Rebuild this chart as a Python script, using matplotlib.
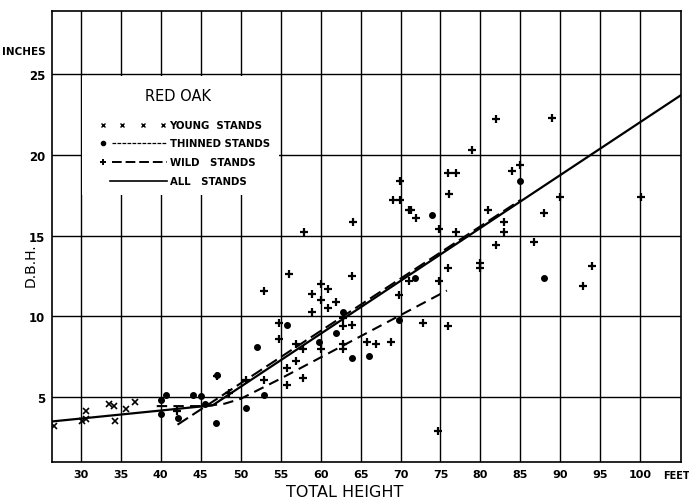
import matplotlib
matplotlib.use("Agg")
import matplotlib.pyplot as plt
from matplotlib.patches import Rectangle

# ---------------------------
# data (height in feet, d.b.h. in inches)
# ---------------------------
young_h = [26.6, 30.1, 30.7, 30.6, 33.5, 34.1, 34.3, 35.6, 36.8]
young_d = [3.2, 3.55, 3.65, 4.15, 4.6, 4.45, 3.5, 4.3, 4.7]

thinned_h = [40.0, 40.0, 40.6, 42.1, 44.0, 45.0, 45.6, 46.9, 47.1, 50.7, 52.0,
             52.9, 55.8, 59.8, 61.9, 62.8, 63.9, 66.0, 69.8, 71.8, 73.9, 85.0, 87.9]
thinned_d = [4.8, 3.95, 5.15, 3.7, 5.15, 5.1, 4.55, 3.4, 6.4, 4.35, 8.1,
             5.15, 9.5, 8.4, 8.95, 10.25, 7.4, 7.55, 9.8, 12.35, 16.3, 18.4, 12.4]

wild_h = [42.0, 47.1, 48.6, 50.7, 52.9, 52.9, 54.8, 54.8, 55.8, 55.8, 56.0,
          56.9, 56.9, 57.8, 57.8, 57.9, 58.9, 58.9, 60.0, 60.0, 60.9, 60.9,
          61.9, 60.0, 62.8, 62.8, 62.8, 62.8, 63.9, 63.9, 64.0, 65.8, 66.9,
          68.8, 69.0, 69.9, 69.9, 69.8, 71.0, 71.0, 71.3, 71.9, 72.8, 74.7,
          74.8, 74.8, 75.9, 75.9, 76.0, 76.9, 76.1, 76.9, 79.0, 79.9, 79.9,
          80.9, 81.9, 81.9, 83.0, 83.0, 84.0, 85.0, 86.7, 87.9, 88.9, 89.9,
          92.8, 93.9, 100.1]
wild_d = [4.15, 6.3, 5.25, 6.05, 6.05, 11.6, 9.6, 8.6, 6.8, 5.75, 12.6,
          8.3, 7.25, 8.0, 6.2, 15.2, 11.4, 10.25, 12.0, 11.0, 11.7, 10.55,
          10.9, 8.0, 9.9, 9.4, 8.3, 8.0, 12.5, 9.5, 15.85, 8.4, 8.3,
          8.4, 17.2, 17.2, 18.4, 11.3, 12.2, 16.6, 16.6, 16.1, 9.6, 2.9,
          15.4, 12.2, 13.0, 9.4, 18.9, 18.9, 17.6, 15.2, 20.3, 13.3, 13.0,
          16.6, 22.2, 14.4, 15.85, 15.2, 19.0, 19.4, 14.6, 16.4, 22.3, 17.4,
          11.9, 13.1, 17.4]

# fitted curves
all_h = [26.4, 46.5, 105.1]
all_d = [3.5, 4.5, 23.7]
wild_fit_h = [42.1, 85.0]
wild_fit_d = [3.3, 17.2]
thin_fit_h = [39.5, 45.5, 48.0, 50.0, 52.0, 55.0, 75.8]
thin_fit_d = [4.45, 4.45, 4.6, 4.9, 5.4, 6.15, 11.6]

x_ticks = [30, 35, 40, 45, 50, 55, 60, 65, 70, 75, 80, 85, 90, 95, 100]
y_ticks = [5, 10, 15, 20, 25]

# ---------------------------
# figure
# ---------------------------
fig = plt.figure(figsize=(6.89, 5.02), dpi=100)
ax = fig.add_axes([0.0755, 0.078, 0.913, 0.898])
ax.set_xlim(26.4, 105.1)
ax.set_ylim(1.0, 28.9)

for x in x_ticks:
    ax.axvline(x, color="black", lw=1.0, zorder=1)
for y in y_ticks:
    ax.axhline(y, color="black", lw=1.0, zorder=1)

# white legend panel cut out of the grid
ax.add_patch(Rectangle((30.15, 17.5), 24.7, 7.4, facecolor="white",
                       edgecolor="none", zorder=2))

ax.plot(all_h, all_d, color="black", lw=1.6, zorder=3)
ax.plot(wild_fit_h, wild_fit_d, color="black", lw=1.5, ls=(0, (6, 2.5)), zorder=3)
ax.plot(thin_fit_h, thin_fit_d, color="black", lw=1.5, ls=(0, (5, 3)), zorder=3)

ax.plot(young_h, young_d, ls="none", marker="x", ms=4, mew=1.2, color="black", zorder=4)
ax.plot(thinned_h, thinned_d, ls="none", marker="o", ms=4, color="black", zorder=4)
ax.plot(wild_h, wild_d, ls="none", marker="+", ms=5.5, mew=1.6, color="black", zorder=4)

ax.set_xticks(x_ticks)
ax.set_yticks(y_ticks)
ax.set_xticklabels([str(v) for v in x_ticks], fontsize=8, fontweight="bold")
ax.set_yticklabels([str(v) for v in y_ticks], fontsize=8.5, fontweight="bold")
ax.tick_params(length=0, pad=5)
for s in ax.spines.values():
    s.set_linewidth(1.2)

# legend panel contents
ax.text(42.1, 23.7, "RED OAK", ha="center", va="center", fontsize=10.5, zorder=5)
rows = [21.85, 20.75, 19.55, 18.4]
for xm in [32.75, 35.1, 37.8, 40.3]:
    ax.plot(xm, rows[0], marker="x", ms=3.5, mew=1.0, color="black", zorder=5)
ax.plot(32.75, rows[1], marker="o", ms=3, color="black", zorder=5)
ax.plot(32.75, rows[2], marker="+", ms=5, mew=1.4, color="black", zorder=5)
ax.plot([33.9, 40.8], [rows[1]] * 2, color="black", lw=0.9, ls=(0, (3, 1)), zorder=5)
ax.plot([33.9, 40.8], [rows[2]] * 2, color="black", lw=1.4, ls=(0, (5, 2)), zorder=5)
ax.plot([33.7, 40.8], [rows[3]] * 2, color="black", lw=1.2, zorder=5)
labels = ["YOUNG  STANDS", "THINNED STANDS", "WILD   STANDS", "ALL   STANDS"]
for r, lab in zip(rows, labels):
    ax.text(41.1, r, lab, ha="left", va="center", fontsize=7.3,
            fontweight="bold", zorder=5)

# axis captions
fig.text(0.003, 0.896, "INCHES", fontsize=7.5, fontweight="bold", va="center")
fig.text(0.963, 0.052, "FEET", fontsize=7, fontweight="bold", va="center")
fig.text(0.045, 0.472, "D.B.H.", rotation=90, fontsize=10, ha="center", va="center")
fig.text(0.50, 0.018, "TOTAL HEIGHT", fontsize=11.5, ha="center", va="center")

fig.savefig("out.png", dpi=100)
